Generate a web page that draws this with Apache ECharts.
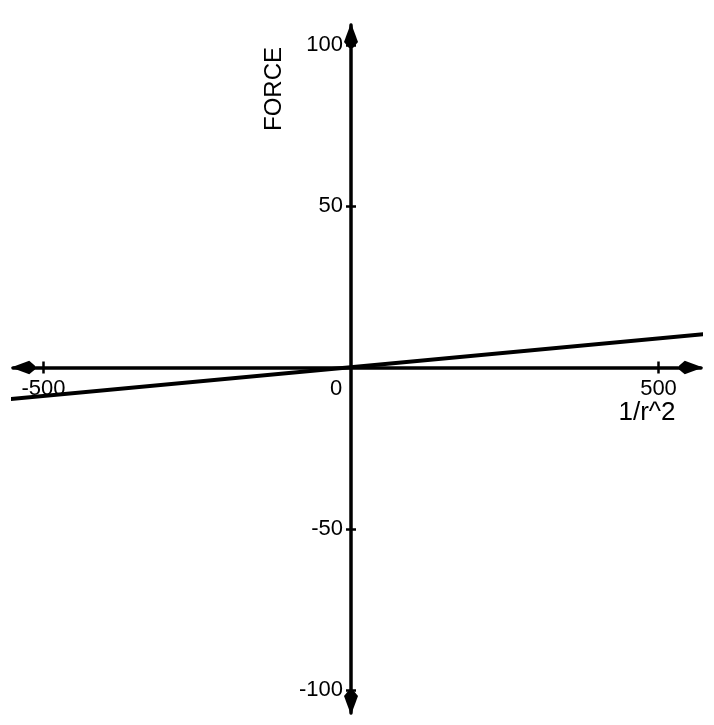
<!DOCTYPE html>
<html>
<head>
<meta charset="utf-8">
<script src="https://cdn.jsdelivr.net/npm/echarts@6/dist/echarts.min.js"></script>
<style>
  html, body { margin: 0; background: #fff; }
  #chart { width: 714px; height: 725px; }
</style>
</head>
<body>
<div id="chart"></div>
<script>
// axis ranges and ticks
const xRange = [-549.6, 569.1];
const yRange = [-107.1, 106.2];
const xTicks = [-500, 500];
const xLabels = [-500, 0, 500];
const yTicks = [-100, -50, 50, 100];
// force vs 1/r^2, straight line through the origin
const forceLine = [[-554, -9.8], [575, 10.4]];

const font = "'Liberation Sans', Arial, sans-serif";
const black = "#000";
// solid arrow head, tip up, back narrowing into the axis line
const arrowHead = "path://M0,0 L7,19 L2,25 L-2,25 L-7,19 Z";

// grid box, the axes cross at the origin inside it
const G = { left: 13, right: 13, top: 25, bottom: 12 };
const W = 714, H = 725;
const gw = W - G.left - G.right, gh = H - G.top - G.bottom;
const zeroX = G.left + gw * (0 - xRange[0]) / (xRange[1] - xRange[0]);
const zeroY = G.top + gh * (yRange[1] - 0) / (yRange[1] - yRange[0]);

var myChart = echarts.init(document.getElementById("chart"));

function xAxisOf(pos, main) {
  return {
    type: "value",
    position: pos,
    offset: pos === "bottom" ? -(H - G.bottom - zeroY) : -(zeroY - G.top),
    min: xRange[0],
    max: xRange[1],
    splitLine: { show: false },
    axisLine: {
      show: main,
      onZero: false,
      symbol: [arrowHead, arrowHead],
      symbolSize: [14, 24],
      symbolOffset: [10, -10],
      lineStyle: { color: black, width: 3.5 },
    },
    axisTick: {
      show: true,
      customValues: xTicks,
      length: 6,
      lineStyle: { color: black, width: 2.5 },
    },
    axisLabel: {
      show: main,
      customValues: xLabels,
      margin: 10,
      color: black,
      fontFamily: font,
      fontSize: 22,
      formatter: function (v) {
        return v === 0 ? "{z|0}" : String(v);
      },
      rich: {
        z: { padding: [0, 30, 0, 0], color: black, fontFamily: font, fontSize: 22 },
      },
    },
  };
}

function yAxisOf(pos, main) {
  return {
    type: "value",
    position: pos,
    offset: pos === "left" ? -(zeroX - G.left) : -(W - G.right - zeroX),
    min: yRange[0],
    max: yRange[1],
    splitLine: { show: false },
    axisLine: {
      show: main,
      onZero: false,
      symbol: [arrowHead, arrowHead],
      symbolSize: [14, 25],
      symbolOffset: [10.5, -10.5],
      lineStyle: { color: black, width: 3.5 },
    },
    axisTick: {
      show: true,
      customValues: yTicks,
      length: 5,
      lineStyle: { color: black, width: 2.5 },
    },
    axisLabel: {
      show: main,
      customValues: yTicks,
      margin: 8,
      color: black,
      fontFamily: font,
      fontSize: 22,
    },
  };
}

myChart.setOption({
  animation: false,
  grid: {
    left: G.left,
    right: G.right,
    top: G.top,
    bottom: G.bottom,
    containLabel: false,
    outerBoundsMode: "none",
  },
  xAxis: [xAxisOf("bottom", true), xAxisOf("top", false)],
  yAxis: [yAxisOf("left", true), yAxisOf("right", false)],
  graphic: [
    {
      type: "text",
      x: 274,
      y: 89,
      rotation: Math.PI / 2,
      style: {
        text: "FORCE",
        font: "24px " + font,
        fill: black,
        align: "center",
        verticalAlign: "middle",
      },
    },
    {
      type: "text",
      x: 647,
      y: 413,
      style: {
        text: "1/r^2",
        font: "26px " + font,
        fill: black,
        align: "center",
        verticalAlign: "middle",
      },
    },
  ],
  series: [
    {
      type: "line",
      xAxisIndex: 0,
      yAxisIndex: 0,
      data: forceLine,
      clip: false,
      symbol: "none",
      lineStyle: { color: black, width: 4, cap: "butt" },
    },
  ],
});
</script>
</body>
</html>
